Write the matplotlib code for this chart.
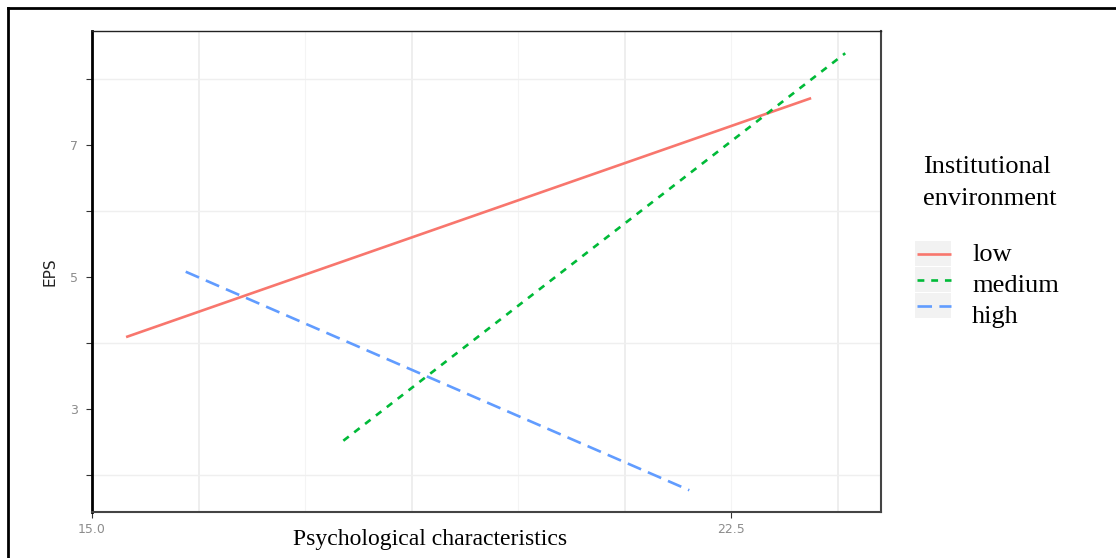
import matplotlib.pyplot as plt
import numpy as np
from matplotlib.lines import Line2D
from matplotlib.patches import Rectangle

# data (start / end of each fitted line)
groups = ['low', 'medium', 'high']
low_x = [15.40, 23.44]
low_y = [4.09, 7.71]
medium_x = [17.95, 23.84]
medium_y = [2.52, 8.39]
high_x = [16.10, 22.01]
high_y = [5.08, 1.77]

colors = ['#F8766D', '#00BA38', '#619CFF']
dashes = [None, (2.6, 2.6), (5.5, 2.8)]

x_ticks = [15.0, 22.5]
x_ticklabels = ['15.0', '22.5']
y_ticks = [2, 3, 4, 5, 6, 7, 8]
y_ticklabels = ['', '3', '', '5', '', '7', '']

W, H = 1116, 558
fig = plt.figure(figsize=(W / 100, H / 100), dpi=100)
ax = fig.add_axes([92 / W, 1 - 512 / H, (881 - 92) / W, (512 - 31) / H])

ax.set_xlim(15.0, 24.26)
ax.set_ylim(1.44, 8.727)

# grid
for gx in [16.25, 18.75, 21.25, 23.75]:
    ax.axvline(gx, color='#EBEBEB', lw=1.2, zorder=0)
for gx in [17.5, 20.0, 22.5]:
    ax.axvline(gx, color='#F4F4F4', lw=0.8, zorder=0)
for gy in [2, 4, 6, 8]:
    ax.axhline(gy, color='#EFEFEF', lw=1.0, zorder=0)

lines_x = [low_x, medium_x, high_x]
lines_y = [low_y, medium_y, high_y]
for xs, ys, c, d in zip(lines_x, lines_y, colors, dashes):
    ln, = ax.plot(xs, ys, color=c, lw=1.9, solid_capstyle='butt')
    if d is not None:
        ln.set_dashes(d)

ax.set_xticks(x_ticks)
ax.set_xticklabels(x_ticklabels)
ax.set_yticks(y_ticks)
ax.set_yticklabels(y_ticklabels)
ax.tick_params(axis='both', labelsize=9, labelcolor='#8C8C8C', color='#333333',
               length=4, width=0.8, pad=4)
ax.tick_params(axis='y', pad=6)

ax.spines['left'].set_linewidth(2.0)
ax.spines['left'].set_color('black')
ax.spines['top'].set_linewidth(1.0)
ax.spines['top'].set_color('#222222')
ax.spines['right'].set_linewidth(1.5)
ax.spines['right'].set_color('#444444')
ax.spines['bottom'].set_linewidth(1.5)
ax.spines['bottom'].set_color('#444444')

ax.set_ylabel('EPS', fontsize=11, color='#222222', labelpad=9)

fig.text(430 / W, 1 - 540 / H, 'Psychological characteristics', family='Liberation Serif',
         fontsize=17, ha='center', va='center')

# legend, drawn by hand
fig.text(923 / W, 1 - 167 / H, 'Institutional', family='Liberation Serif', fontsize=19,
         ha='left', va='center')
fig.text(923 / W, 1 - 199 / H, 'environment', family='Liberation Serif', fontsize=19,
         ha='left', va='center')
key_tops = [241, 267, 293]
label_y = [255, 286, 317]
for i, g in enumerate(groups):
    fig.add_artist(Rectangle((915 / W, 1 - (key_tops[i] + 25) / H), 36 / W, 25 / H,
                             transform=fig.transFigure, facecolor='#F2F2F2',
                             edgecolor='none'))
    cy = 1 - (key_tops[i] + 12.5) / H
    kl = Line2D([917 / W, 951 / W], [cy, cy], transform=fig.transFigure,
                color=colors[i], lw=1.9, solid_capstyle='butt')
    if dashes[i] is not None:
        kl.set_dashes(dashes[i])
    fig.add_artist(kl)
    fig.text(972 / W, 1 - label_y[i] / H, g, family='Liberation Serif', fontsize=19,
             ha='left', va='center')

# outer frame
fig.add_artist(Line2D([8 / W, 8 / W], [0, 1 - 8 / H], transform=fig.transFigure,
                      color='black', lw=2.0))
fig.add_artist(Line2D([8 / W, 1], [1 - 8 / H, 1 - 8 / H], transform=fig.transFigure,
                      color='black', lw=2.0))

fig.savefig('out.png', dpi=100)
